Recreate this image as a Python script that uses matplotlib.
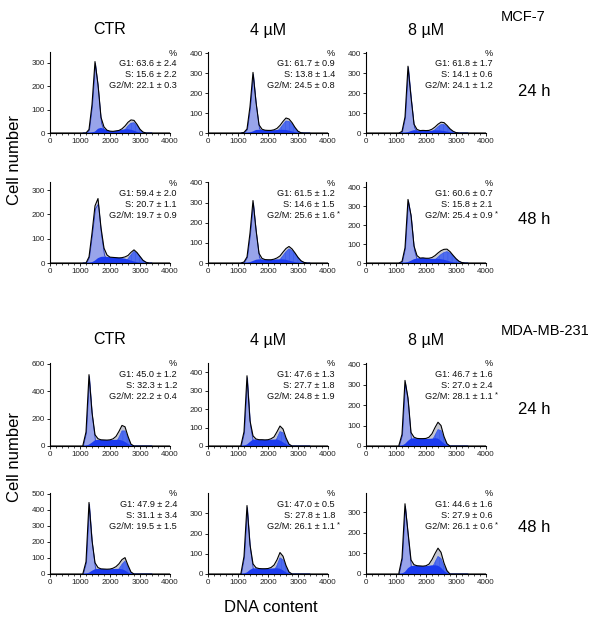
import matplotlib
matplotlib.use("Agg")
import matplotlib.pyplot as plt
from matplotlib.ticker import MultipleLocator

plt.rcParams["font.family"] = ["Liberation Sans", "DejaVu Sans"]
plt.rcParams["hatch.linewidth"] = 0.35

# DNA content bins (channel) shared by all histograms
DNA = [1100, 1200, 1300, 1400, 1500, 1600, 1700, 1800, 1900, 2000, 2100, 2200,
       2300, 2400, 2500, 2600, 2700, 2800, 2900, 3000, 3100, 3200, 3300, 3400]

# MCF-7, 24 h
mcf24_ctr_g1 = [0, 0, 15, 120, 300, 190, 45, 8, 0, 0, 0, 0, 0, 0, 0, 0, 0, 0, 0, 0, 0, 0, 0, 0]
mcf24_ctr_s = [0, 0, 0, 2, 6, 18, 22, 18, 12, 8, 7, 9, 11, 14, 16, 16, 14, 10, 5, 2, 0, 0, 0, 0]
mcf24_ctr_g2 = [0, 0, 0, 0, 0, 0, 0, 0, 0, 0, 0, 0, 0, 4, 14, 30, 42, 44, 32, 14, 4, 0, 0, 0]
mcf24_4_g1 = [0, 3, 20, 130, 295, 140, 25, 4, 0, 0, 0, 0, 0, 0, 0, 0, 0, 0, 0, 0, 0, 0, 0, 0]
mcf24_4_s = [0, 0, 0, 3, 8, 15, 16, 15, 14, 13, 13, 14, 15, 16, 16, 15, 12, 8, 4, 1, 0, 0, 0, 0]
mcf24_4_g2 = [0, 0, 0, 0, 0, 0, 0, 0, 0, 0, 0, 2, 8, 22, 42, 60, 58, 44, 24, 8, 1, 0, 0, 0]
mcf24_8_g1 = [0, 8, 80, 330, 170, 30, 5, 0, 0, 0, 0, 0, 0, 0, 0, 0, 0, 0, 0, 0, 0, 0, 0, 0]
mcf24_8_s = [0, 0, 0, 4, 10, 14, 13, 12, 13, 12, 11, 12, 13, 13, 12, 10, 7, 4, 2, 0, 0, 0, 0, 0]
mcf24_8_g2 = [0, 0, 0, 0, 0, 0, 0, 0, 0, 0, 2, 7, 17, 31, 42, 42, 31, 17, 7, 2, 0, 0, 0, 0]

# MCF-7, 48 h
mcf48_ctr_g1 = [0, 0, 25, 120, 225, 245, 120, 35, 8, 0, 0, 0, 0, 0, 0, 0, 0, 0, 0, 0, 0, 0, 0, 0]
mcf48_ctr_s = [0, 0, 0, 3, 10, 20, 25, 26, 25, 24, 23, 22, 21, 20, 18, 14, 10, 6, 3, 1, 0, 0, 0, 0]
mcf48_ctr_g2 = [0, 0, 0, 0, 0, 0, 0, 0, 0, 0, 0, 0, 0, 2, 7, 17, 34, 48, 40, 26, 11, 3, 0, 0]
mcf48_4_g1 = [0, 5, 30, 145, 300, 150, 30, 5, 0, 0, 0, 0, 0, 0, 0, 0, 0, 0, 0, 0, 0, 0, 0, 0]
mcf48_4_s = [0, 0, 0, 4, 10, 16, 18, 18, 17, 16, 16, 17, 18, 18, 18, 16, 12, 8, 4, 2, 0, 0, 0, 0]
mcf48_4_g2 = [0, 0, 0, 0, 0, 0, 0, 0, 0, 0, 0, 2, 7, 17, 36, 56, 70, 62, 46, 26, 11, 3, 0, 0]
mcf48_8_g1 = [0, 8, 80, 330, 240, 70, 15, 0, 0, 0, 0, 0, 0, 0, 0, 0, 0, 0, 0, 0, 0, 0, 0, 0]
mcf48_8_s = [0, 0, 0, 5, 12, 20, 24, 26, 27, 25, 23, 22, 22, 22, 20, 17, 13, 8, 4, 2, 0, 0, 0, 0]
mcf48_8_g2 = [0, 0, 0, 0, 0, 0, 0, 0, 0, 0, 2, 7, 17, 31, 45, 55, 60, 52, 37, 21, 9, 2, 0, 0]

# MDA-MB-231, 24 h
mda24_ctr_g1 = [8, 100, 510, 220, 40, 8, 0, 0, 0, 0, 0, 0, 0, 0, 0, 0, 0, 0, 0, 0, 0, 0, 0, 0]
mda24_ctr_s = [0, 2, 10, 25, 42, 45, 45, 44, 43, 43, 44, 45, 45, 40, 30, 15, 3, 0, 0, 0, 0, 0, 0, 0]
mda24_ctr_g2 = [0, 0, 0, 0, 0, 0, 0, 0, 0, 2, 8, 25, 62, 110, 110, 55, 10, 0, 0, 0, 0, 0, 0, 0]
mda24_4_g1 = [5, 75, 372, 115, 20, 3, 0, 0, 0, 0, 0, 0, 0, 0, 0, 0, 0, 0, 0, 0, 0, 0, 0, 0]
mda24_4_s = [0, 2, 8, 22, 35, 35, 34, 34, 33, 33, 34, 35, 35, 30, 20, 10, 2, 0, 0, 0, 0, 0, 0, 0]
mda24_4_g2 = [0, 0, 0, 0, 0, 0, 0, 0, 0, 1, 5, 14, 42, 78, 72, 34, 8, 0, 0, 0, 0, 0, 0, 0]
mda24_8_g1 = [5, 55, 310, 210, 30, 5, 0, 0, 0, 0, 0, 0, 0, 0, 0, 0, 0, 0, 0, 0, 0, 0, 0, 0]
mda24_8_s = [0, 2, 10, 25, 36, 38, 37, 36, 36, 35, 35, 36, 38, 36, 25, 12, 3, 0, 0, 0, 0, 0, 0, 0]
mda24_8_g2 = [0, 0, 0, 0, 0, 0, 0, 0, 0, 2, 8, 24, 52, 80, 75, 34, 8, 0, 0, 0, 0, 0, 0, 0]

# MDA-MB-231, 48 h
mda48_ctr_g1 = [5, 75, 438, 190, 40, 8, 0, 0, 0, 0, 0, 0, 0, 0, 0, 0, 0, 0, 0, 0, 0, 0, 0, 0]
mda48_ctr_s = [0, 2, 8, 20, 30, 32, 32, 31, 30, 30, 31, 32, 32, 30, 22, 10, 2, 0, 0, 0, 0, 0, 0, 0]
mda48_ctr_g2 = [0, 0, 0, 0, 0, 0, 0, 0, 0, 1, 5, 14, 32, 60, 80, 44, 10, 0, 0, 0, 0, 0, 0, 0]
mda48_4_g1 = [5, 85, 330, 125, 22, 3, 0, 0, 0, 0, 0, 0, 0, 0, 0, 0, 0, 0, 0, 0, 0, 0, 0, 0]
mda48_4_s = [0, 2, 8, 20, 28, 28, 27, 26, 26, 26, 27, 28, 28, 26, 18, 8, 2, 0, 0, 0, 0, 0, 0, 0]
mda48_4_g2 = [0, 0, 0, 0, 0, 0, 0, 0, 0, 1, 5, 16, 42, 80, 70, 34, 8, 0, 0, 0, 0, 0, 0, 0]
mda48_8_g1 = [8, 75, 330, 175, 30, 5, 0, 0, 0, 0, 0, 0, 0, 0, 0, 0, 0, 0, 0, 0, 0, 0, 0, 0]
mda48_8_s = [0, 2, 10, 28, 38, 40, 40, 39, 38, 38, 40, 42, 42, 40, 30, 15, 4, 0, 0, 0, 0, 0, 0, 0]
mda48_8_g2 = [0, 0, 0, 0, 0, 0, 0, 0, 0, 2, 8, 28, 57, 85, 75, 38, 12, 0, 0, 0, 0, 0, 0, 0]

# % of cells in each phase (mean, sd, significant)
mcf24_pct = [("63.6", "2.4", "15.6", "2.2", "22.1", "0.3", False),
             ("61.7", "0.9", "13.8", "1.4", "24.5", "0.8", False),
             ("61.8", "1.7", "14.1", "0.6", "24.1", "1.2", False)]
mcf48_pct = [("59.4", "2.0", "20.7", "1.1", "19.7", "0.9", False),
             ("61.5", "1.2", "14.6", "1.5", "25.6", "1.6", True),
             ("60.6", "0.7", "15.8", "2.1", "25.4", "0.9", True)]
mda24_pct = [("45.0", "1.2", "32.3", "1.2", "22.2", "0.4", False),
             ("47.6", "1.3", "27.7", "1.8", "24.8", "1.9", False),
             ("46.7", "1.6", "27.0", "2.4", "28.1", "1.1", True)]
mda48_pct = [("47.9", "2.4", "31.1", "3.4", "19.5", "1.5", False),
             ("47.0", "0.5", "27.8", "1.8", "26.1", "1.1", True),
             ("44.6", "1.6", "27.9", "0.6", "26.1", "0.6", True)]

treatments = ["CTR", "4 µM", "8 µM"]
cell_lines = ["MCF-7", "MDA-MB-231"]
times = ["24 h", "48 h"]

# y-axis limits / ticks per row
ymax_rows = [[347, 405, 405], [333, 402, 427], [605, 449, 405], [505, 400, 392]]
yticks_rows = [[[0, 100, 200, 300], [0, 100, 200, 300, 400], [0, 100, 200, 300, 400]],
               [[0, 100, 200, 300], [0, 100, 200, 300, 400], [0, 100, 200, 300, 400]],
               [[0, 200, 400, 600], [0, 100, 200, 300, 400], [0, 100, 200, 300, 400]],
               [[0, 100, 200, 300, 400, 500], [0, 100, 200, 300], [0, 100, 200, 300]]]

rows = [
    [(mcf24_ctr_g1, mcf24_ctr_s, mcf24_ctr_g2), (mcf24_4_g1, mcf24_4_s, mcf24_4_g2),
     (mcf24_8_g1, mcf24_8_s, mcf24_8_g2)],
    [(mcf48_ctr_g1, mcf48_ctr_s, mcf48_ctr_g2), (mcf48_4_g1, mcf48_4_s, mcf48_4_g2),
     (mcf48_8_g1, mcf48_8_s, mcf48_8_g2)],
    [(mda24_ctr_g1, mda24_ctr_s, mda24_ctr_g2), (mda24_4_g1, mda24_4_s, mda24_4_g2),
     (mda24_8_g1, mda24_8_s, mda24_8_g2)],
    [(mda48_ctr_g1, mda48_ctr_s, mda48_ctr_g2), (mda48_4_g1, mda48_4_s, mda48_4_g2),
     (mda48_8_g1, mda48_8_s, mda48_8_g2)],
]
pcts = [mcf24_pct, mcf48_pct, mda24_pct, mda48_pct]

W, H = 600, 621
fig = plt.figure(figsize=(W / 100, H / 100), dpi=100)

col_left = [50, 208, 366]   # px
col_w = 120
row_top = [52, 182, 363, 493]
row_h = [81, 81, 83, 81]

C_G1 = "#98a4ea"
C_G1_EDGE = "#2438c8"
C_S = "#1a3af0"
C_G2 = "#4f6cee"
C_TOT = "#c4c6d2"


def fx(px):
    return px / W


def fy(py):
    return 1 - py / H


for r in range(4):
    for c in range(3):
        g1, s, g2 = rows[r][c]
        tot = [a + b + d for a, b, d in zip(g1, s, g2)]
        ax = fig.add_axes([fx(col_left[c]), fy(row_top[r] + row_h[r]),
                           col_w / W, row_h[r] / H])
        ax.fill_between(DNA, tot, color=C_TOT, lw=0)
        ax.fill_between(DNA, g1, facecolor=C_G1, edgecolor=C_G1_EDGE, lw=0.6)
        ax.fill_between(DNA, g2, facecolor=C_G2, edgecolor="#3556e8", hatch="||||", lw=0.5)
        ax.fill_between(DNA, s, facecolor=C_S, edgecolor="none", lw=0)
        ax.plot([0, 1100] + DNA + [4000], [0, 0] + tot + [0], color="black", lw=0.8)

        ax.set_xlim(0, 4000)
        ax.set_ylim(0, ymax_rows[r][c])
        ax.set_xticks([0, 1000, 2000, 3000, 4000])
        ax.xaxis.set_minor_locator(MultipleLocator(200))
        ax.set_yticks(yticks_rows[r][c])
        for sp in ("top", "right"):
            ax.spines[sp].set_visible(False)
        for sp in ("left", "bottom"):
            ax.spines[sp].set_linewidth(0.8)
        ax.tick_params(axis="both", which="major", labelsize=5.8, length=2, width=0.6, pad=1.5,
                       labelcolor="#222222")
        ax.tick_params(axis="x", which="minor", length=1.2, width=0.5)

        p = pcts[r][c]
        lines = ["%", f"G1: {p[0]} ± {p[1]}", f"S: {p[2]} ± {p[3]}", f"G2/M: {p[4]} ± {p[5]}"]
        offs = [-1, -11.5, -22.5, -33.5]
        for txt, oy in zip(lines, offs):
            ax.annotate(txt, xy=(1, 1), xycoords="axes fraction",
                        xytext=(5.0, oy * 0.72), textcoords="offset points",
                        ha="right", va="center", fontsize=6.6, color="#111111")
        if p[6]:
            ax.annotate("*", xy=(1, 1), xycoords="axes fraction",
                        xytext=(6.2, -33.5 * 0.72 + 1.0), textcoords="offset points",
                        ha="left", va="center", fontsize=5.5, color="#111111")

# column titles
for top in (30, 340):
    for c in range(3):
        fig.text(fx(col_left[c] + col_w / 2), fy(top), treatments[c],
                 ha="center", va="center", fontsize=11.5)

# cell line names and time labels
fig.text(fx(523), fy(17), cell_lines[0], ha="center", va="center", fontsize=10.5)
fig.text(fx(545), fy(331), cell_lines[1], ha="center", va="center", fontsize=10.5)
for yy, t in zip([92, 220, 410, 527], times * 2):
    fig.text(fx(534), fy(yy), t, ha="center", va="center", fontsize=12)

# axis labels
for yy in (160, 457):
    fig.text(fx(15), fy(yy), "Cell number", rotation=90, ha="center", va="center", fontsize=12)
fig.text(fx(271), fy(607), "DNA content", ha="center", va="center", fontsize=12)

fig.savefig("out.png", dpi=100)
